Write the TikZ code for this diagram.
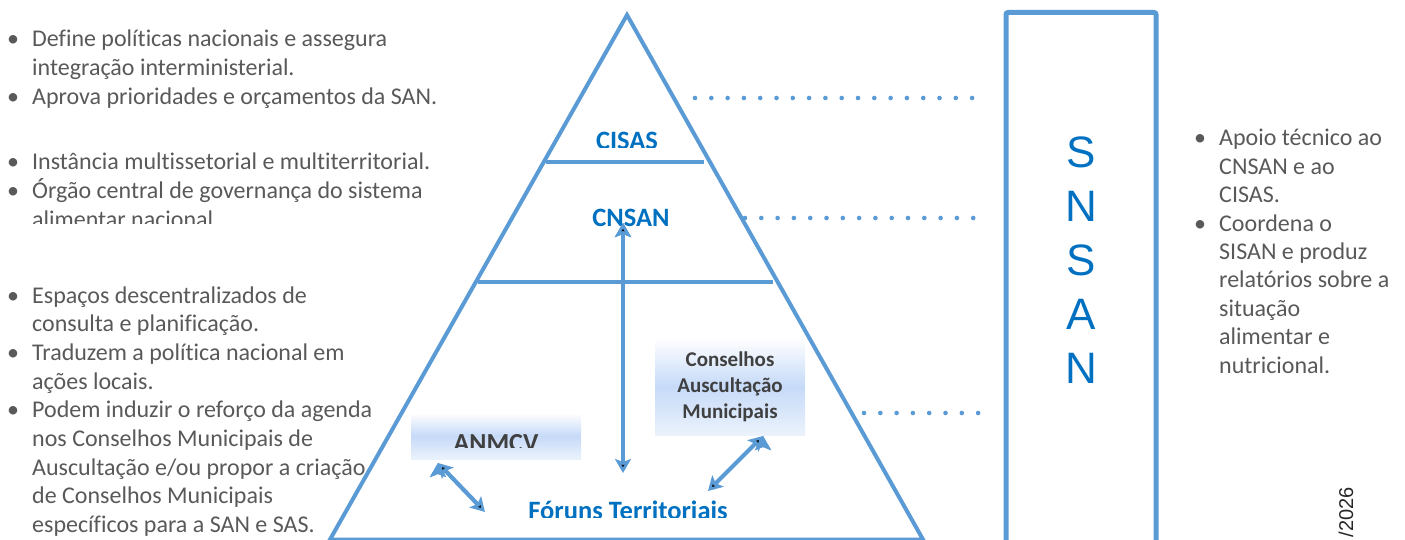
\documentclass[tikz,border=0pt]{standalone}
\usepackage{fontspec}
\setmainfont[Ligatures=CommonOff]{Carlito}
\newfontfamily\arialfont{Liberation Sans}
\usetikzlibrary{arrows.meta}

\definecolor{pyrblue}{HTML}{5B9BD5}
\definecolor{labblue}{HTML}{0070C0}
\definecolor{txtgray}{HTML}{595959}
\definecolor{boxgray}{HTML}{404040}
\definecolor{shadeblue}{HTML}{C6DAF8}

\tikzset{
  pyr/.style={draw=pyrblue, line width=4pt},
  link/.style={draw=pyrblue, line width=4.6pt, line cap=round, dash pattern=on 0pt off 16.3pt},
  flow/.style={draw=pyrblue, line width=4.2pt, {Stealth[length=14pt,width=16pt,inset=3pt]}-{Stealth[length=14pt,width=16pt,inset=3pt]}},
  tier/.style={font=\fontsize{26.5}{30}\selectfont\bfseries, text=labblue, inner sep=0pt, anchor=base},
  council/.style={shade, top color=white, bottom color=shadeblue!35, middle color=shadeblue, inner sep=0pt,
                  font=\fontsize{21}{26}\selectfont\bfseries, text=boxgray, align=center},
  notes/.style={font=\fontsize{24}{28.7}\selectfont, text=txtgray, inner sep=0pt, anchor=base west},
}
\newcommand{\bul}{\makebox[19pt][l]{\makebox[0pt]{\textbullet}}}
\newcommand{\ind}{\hspace*{19pt}}

\begin{document}
\begin{tikzpicture}[x=1pt,y=-1pt]
\useasboundingbox (0,0) rectangle (1405,540);

% pyramid and its levels
\coordinate (apex) at (627,15);
\coordinate (bl) at (330,539.5);
\coordinate (br) at (923,539.5);
\draw[pyr] (bl) -- (apex) -- (br) -- cycle;
\draw[pyr] (546,162) -- (704,162);
\draw[pyr] (478,282) -- (773,282);

% tier labels
\begin{scope}
  \clip (540,120) rectangle (720,148);
  \node[tier] (cisas) at (627,150) {CISAS};
\end{scope}
\node[tier] (cnsan) at (631,226) {CNSAN};
\begin{scope}
  \clip (500,480) rectangle (760,517);
  \node[tier] (foruns) at (628,519) {Fóruns Territoriais};
\end{scope}

% local bodies
\node[council, minimum width=170pt, minimum height=46pt] (anmcv) at (496,436) {};
\begin{scope}
  \clip (411,413) rectangle (581,447);
  \node[council, shade=false, anchor=base, font=\fontsize{26}{30}\selectfont\bfseries] (anmcvlbl) at (496,451) {ANMCV};
\end{scope}
\node[council, minimum width=150pt, minimum height=97pt] (cam) at (730,386.5)
  {Conselhos\\Auscultação\\Municipais};

% arrows
\coordinate (up) at (623,223);
\coordinate (down) at (623,473);
\coordinate (a1) at (438,463);
\coordinate (a2) at (485,512);
\coordinate (b1) at (763,436);
\coordinate (b2) at (708,491);
\path[flow] (up) edge (down);
\path[flow] (a1) edge (a2);
\path[flow] (b1) edge (b2);

% secretariat
\node[draw=pyrblue, line width=5pt, rounded corners=2pt, minimum width=150pt, minimum height=560pt,
      anchor=north, inner sep=0pt, outer sep=0pt] (snsan) at (1081,12.5) {};
\node[text=labblue, font=\arialfont\fontsize{44}{54}\selectfont, align=center, inner sep=0pt] (snsanlbl)
  at (1081,260) {S\\N\\S\\A\\N};

% dotted links
\coordinate (l1) at (695,98);
\coordinate (l2) at (745,218);
\coordinate (l3) at (864,413);
\draw[link, shorten >=32pt] (l1) -- (l1 -| snsan.west);
\draw[link, shorten >=31pt] (l2) -- (l2 -| snsan.west);
\draw[link, shorten >=27pt] (l3) -- (l3 -| snsan.west);

% notes
\node[notes] (cisasnotes) at (13,47) {\begin{tabular}[t]{@{}l@{}}
  \bul Define políticas nacionais e assegura\\
  \ind integração interministerial.\\
  \bul Aprova prioridades e orçamentos da SAN.
\end{tabular}};
\begin{scope}
  \clip (0,140) rectangle (460,223);
  \node[notes] (cnsannotes) at (13,170) {\begin{tabular}[t]{@{}l@{}}
    \bul Instância multissetorial e multiterritorial.\\
    \bul Órgão central de governança do sistema\\
    \ind alimentar nacional
  \end{tabular}};
\end{scope}
\node[notes] (forunsnotes) at (13,303) {\begin{tabular}[t]{@{}l@{}}
  \bul Espaços descentralizados de\\
  \ind consulta e planificação.\\
  \bul Traduzem a política nacional em\\
  \ind ações locais.\\
  \bul Podem induzir o reforço da agenda\\
  \ind nos Conselhos Municipais de\\
  \ind Auscultação e/ou propor a criação\\
  \ind de Conselhos Municipais\\
  \ind específicos para a SAN e SAS.
\end{tabular}};
\node[notes, font=\fontsize{24}{28.4}\selectfont] (snsannotes) at (1200,146) {\begin{tabular}[t]{@{}l@{}}
  \bul Apoio técnico ao\\
  \ind CNSAN e ao\\
  \ind CISAS.\\
  \bul Coordena o\\
  \ind SISAN e produz\\
  \ind relatórios sobre a\\
  \ind situação\\
  \ind alimentar e\\
  \ind nutricional.
\end{tabular}};

\node[rotate=90, anchor=base east, inner sep=0pt, text=black!85,
      font=\arialfont\fontsize{20}{24}\selectfont] (date) at (1353,487) {/2026};
\end{tikzpicture}
\end{document}
